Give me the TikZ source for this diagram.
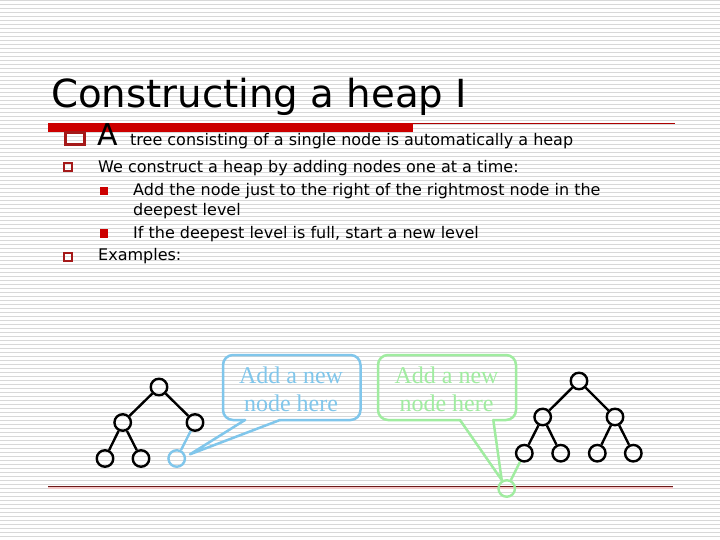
\documentclass[tikz,border=0pt]{standalone}
\usepackage{fontspec}
\setmainfont{DejaVu Sans}
\newfontfamily\serifcall{Liberation Serif}
\definecolor{gridgray}{RGB}{216,216,216}
\definecolor{barred}{RGB}{204,0,0}
\definecolor{bulred}{RGB}{165,25,25}
\definecolor{callblue}{RGB}{128,198,235}
\definecolor{callgreen}{RGB}{160,236,160}
\definecolor{lined}{RGB}{110,25,25}
\definecolor{linepink}{RGB}{242,200,200}
\begin{document}
\begin{tikzpicture}[x=1pt,y=-1pt,
  treenode/.style={circle,draw=black,line width=2.4pt,inner sep=0pt,minimum size=16.5pt},
  treeedge/.style={line width=2.4pt,black},
  bodytext/.style={anchor=base west,inner sep=0pt,font=\fontsize{16}{19}\selectfont},
  calltext/.style={anchor=base,inner sep=0pt,font=\serifcall\fontsize{24}{29}\selectfont},
  callbox/.style={line width=2.5pt,rounded corners=10pt,line cap=round},
  calltail/.style={line width=2.5pt,line join=round,line cap=round},
  hollowbullet/.style={draw=bulred},
  fullbullet/.style={fill=barred}
]
\useasboundingbox (0,0) rectangle (720,540);
\fill[white] (0,0) rectangle (720,540);
\foreach \k in {0,...,134} \draw[gridgray,line width=1.1pt] (0,0.5+4*\k) -- (720,0.5+4*\k);

% title
\node[anchor=base west,inner sep=0pt,font=\fontsize{38.7}{40}\selectfont] (title) at (51,108) {Constructing a heap I};
\draw[barred!85!black,line width=1pt] (48,123.5) -- (675,123.5);
\fill[barred] (48,123) rectangle (413,132);

% bullets
\draw[hollowbullet,line width=3pt] (65.5,132.5) rectangle (84.5,144.5);
\node[anchor=base west,inner sep=0pt,font=\fontsize{30}{30}\selectfont] (bigA) at (97,146) {A};
\node[bodytext] (l1) at (130,146) {tree consisting of a single node is automatically a heap};

\draw[hollowbullet,line width=2pt] (63.7,162.7) rectangle (72.3,171.3);
\node[bodytext] (l2) at (98,172.5) {We construct a heap by adding nodes one at a time:};

\fill[fullbullet] (99.5,187) rectangle (108,195.5);
\node[bodytext] (l3) at (133,196) {Add the node just to the right of the rightmost node in the};
\node[bodytext] (l4) at (133,215.5) {deepest level};

\fill[fullbullet] (99.5,229) rectangle (108,237.5);
\node[bodytext] (l5) at (133,238) {If the deepest level is full, start a new level};

\draw[hollowbullet,line width=2pt] (63.7,252.7) rectangle (72.3,261.3);
\node[bodytext] (l6) at (98,260) {Examples:};

% bottom rule
\draw[linepink,line width=1.5pt] (48,487.8) -- (673,487.8);
\draw[lined,line width=1.2pt] (48,486.2) -- (673,486.2);

% left tree
\node[treenode] (a1) at (159,387) {};
\node[treenode] (a2) at (122.7,422.5) {};
\node[treenode] (a3) at (195,422.5) {};
\node[treenode] (a4) at (105,458.5) {};
\node[treenode] (a5) at (141,458.5) {};
\node[treenode,draw=callblue] (a6) at (176.7,458.5) {};
\draw[treeedge] (a1) -- (a2);
\draw[treeedge] (a1) -- (a3);
\draw[treeedge] (a2) -- (a4);
\draw[treeedge] (a2) -- (a5);
\draw[treeedge,callblue] (a3) -- (a6);

% right tree
\node[treenode] (b1) at (579,381) {};
\node[treenode] (b2) at (542.7,417) {};
\node[treenode] (b3) at (615,417) {};
\node[treenode] (b4) at (524.3,453.2) {};
\node[treenode] (b5) at (560.7,453.2) {};
\node[treenode] (b6) at (597.3,453.2) {};
\node[treenode] (b7) at (633.3,453.2) {};
\node[treenode,draw=callgreen] (b8) at (506.7,488.5) {};
\draw[treeedge] (b1) -- (b2);
\draw[treeedge] (b1) -- (b3);
\draw[treeedge] (b2) -- (b4);
\draw[treeedge] (b2) -- (b5);
\draw[treeedge] (b3) -- (b6);
\draw[treeedge] (b3) -- (b7);
\draw[treeedge,callgreen] (b4) -- (b8);

% blue callout
\coordinate (bluetip) at (190,454.3);
\draw[callbox,callblue] (245,420) -- (223,420) -- (223,355) -- (360.5,355) -- (360.5,420) -- (280,420);
\draw[calltail,callblue] (245,420) -- (bluetip) -- (280,420);
\node[calltext,text=callblue] (bt1) at (291,383) {Add a new};
\node[calltext,text=callblue] (bt2) at (291,411.7) {node here};

% green callout
\coordinate (greentip) at (501.7,480);
\draw[callbox,callgreen] (460,420) -- (378,420) -- (378,355) -- (516,355) -- (516,420) -- (493.3,420);
\draw[calltail,callgreen] (460,420) -- (greentip) -- (493.3,420);
\node[calltext,text=callgreen] (gt1) at (446.5,383) {Add a new};
\node[calltext,text=callgreen] (gt2) at (446.5,411.7) {node here};
\end{tikzpicture}
\end{document}
